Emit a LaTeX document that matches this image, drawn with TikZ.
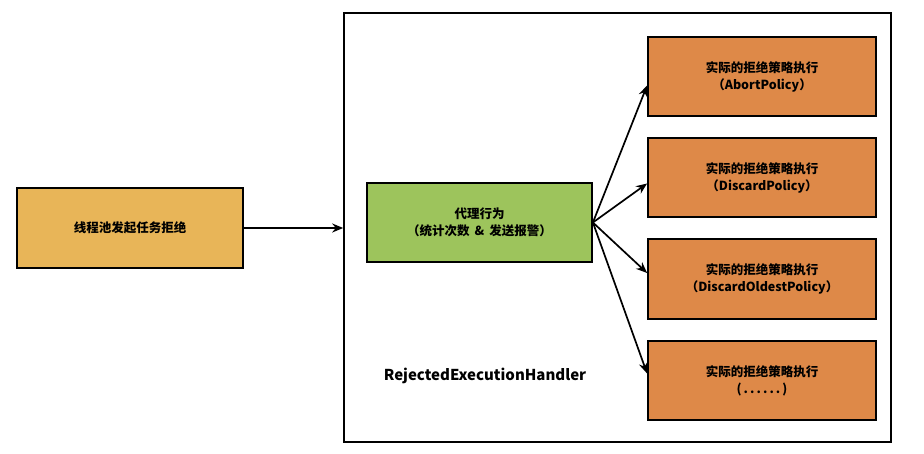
\documentclass[tikz,border=0pt]{standalone}
\usepackage{fontspec}
\setmainfont{Noto Sans CJK SC}
\usetikzlibrary{arrows.meta}
\definecolor{boxyellow}{RGB}{232,181,88}
\definecolor{boxgreen}{RGB}{157,196,92}
\definecolor{boxorange}{RGB}{222,137,72}
\tikzset{
  boxbase/.style={draw=black, line width=1.8pt, inner sep=0pt, align=center, font=\fontsize{12.5}{17}\selectfont\bfseries},
  arr/.style={-{Stealth[length=11pt,width=9pt]}, line width=1.7pt},
}
\begin{document}
\begin{tikzpicture}[x=1pt,y=-1pt]
\useasboundingbox (0,0) rectangle (924,454);
\node[draw=black, line width=1.6pt, minimum width=547pt, minimum height=429pt, inner sep=0pt] (cont) at (617.5,227.5) {};
\node[boxbase, fill=boxyellow, minimum width=226pt, minimum height=80pt] (src) at (130,228) {线程池发起任务拒绝};
\node[boxbase, fill=boxgreen, minimum width=225pt, minimum height=79pt] (proxy) at (479.5,222.5) {代理行为\\（统计次数 \,\&\, 发送报警）};
\node[boxbase, fill=boxorange, minimum width=228pt, minimum height=79pt] (p1) at (762,76.5) {实际的拒绝策略执行\\（AbortPolicy）};
\node[boxbase, fill=boxorange, minimum width=228pt, minimum height=79pt] (p2) at (762,177.5) {实际的拒绝策略执行\\（DiscardPolicy）};
\node[boxbase, fill=boxorange, minimum width=228pt, minimum height=80pt] (p3) at (762,279) {实际的拒绝策略执行\\（DiscardOldestPolicy）};
\node[boxbase, fill=boxorange, minimum width=228pt, minimum height=79pt] (p4) at (762,380.5) {实际的拒绝策略执行\\(\,.\,.\,.\,.\,.\,.\,)};
\node[font=\fontsize{15}{18}\selectfont\bfseries] (lbl) at (485,376) {RejectedExecutionHandler};
\coordinate (fan) at (proxy.east);
\draw[arr] (src.east) -- (src.east -| cont.west);
\draw[arr] (fan) -- ([yshift=-9pt]p1.west);
\draw[arr] (fan) -- ([yshift=-6pt]p2.west);
\draw[arr] (fan) -- ([yshift=6pt]p3.west);
\draw[arr] (fan) -- ([yshift=7pt]p4.west);
\end{tikzpicture}
\end{document}
